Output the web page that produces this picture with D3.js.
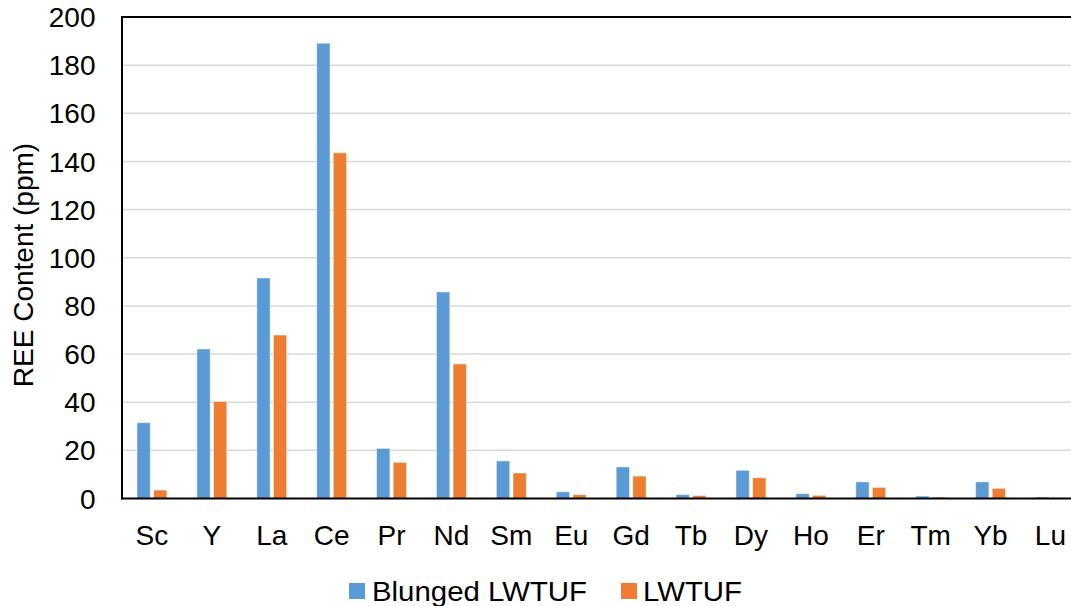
<!DOCTYPE html>
<html>
<head>
<meta charset="utf-8">
<script src="https://cdn.jsdelivr.net/npm/d3@7"></script>
<style>
  html, body { margin: 0; padding: 0; background: #fff; }
  svg { display: block; font-family: "Liberation Sans", Arial, sans-serif; }
</style>
</head>
<body>
<svg id="chart" width="1071" height="606"></svg>
<script>
// REE content per element for the two samples
const categories = ["Sc", "Y", "La", "Ce", "Pr", "Nd", "Sm", "Eu", "Gd", "Tb", "Dy", "Ho", "Er", "Tm", "Yb", "Lu"];
const seriesNames = ["Blunged LWTUF", "LWTUF"];
const blungedLWTUF = [31.5, 62.1, 91.6, 189.1, 20.8, 85.8, 15.6, 2.8, 13.1, 1.6, 11.7, 2.0, 6.9, 1.0, 6.9, 0.6];
const lwtuf = [3.5, 40.3, 67.9, 143.6, 15.0, 55.9, 10.6, 1.6, 9.3, 1.2, 8.6, 1.3, 4.6, 0.6, 4.2, 0.3];
const yTicks = [0, 20, 40, 60, 80, 100, 120, 140, 160, 180, 200];
const colors = ["#5b9bd5", "#ed7d31"];

const svg = d3.select("#chart");
const plotLeft = 122, plotTop = 17, plotBottom = 498.5, plotRight = 122 + 16 * 59.9;

const x = d3.scaleBand().domain(categories).range([plotLeft, plotRight]);
const xSeries = d3.scaleBand().domain(seriesNames).range([0, x.bandwidth()])
  .paddingInner(0.2).paddingOuter(0.904);
const y = d3.scaleLinear().domain([0, 200]).range([plotBottom, plotTop]);

// horizontal gridlines
svg.append("g").selectAll("line").data(yTicks.filter(d => d > 0 && d < 200)).join("line")
  .attr("x1", plotLeft).attr("x2", 1071)
  .attr("y1", d => y(d)).attr("y2", d => y(d))
  .attr("stroke", "#d9d9d9").attr("stroke-width", 1.5);

// bars
const rows = categories.map((c, i) => ({ c, v: [blungedLWTUF[i], lwtuf[i]] }));
const groups = svg.append("g").selectAll("g").data(rows).join("g")
  .attr("transform", d => `translate(${x(d.c)},0)`);
groups.selectAll("rect").data(d => d.v.map((v, k) => ({ v, k }))).join("rect")
  .attr("x", d => xSeries(seriesNames[d.k]))
  .attr("width", xSeries.bandwidth())
  .attr("y", d => y(d.v))
  .attr("height", d => plotBottom - y(d.v))
  .attr("fill", d => colors[d.k])
  .attr("stroke", "#ffffff").attr("stroke-opacity", 0.45).attr("stroke-width", 1);

// frame: left axis, bottom axis, top border
svg.append("line").attr("x1", plotLeft).attr("x2", plotLeft).attr("y1", plotTop - 1).attr("y2", plotBottom + 1)
  .attr("stroke", "#000").attr("stroke-width", 2);
svg.append("line").attr("x1", plotLeft - 1).attr("x2", 1071).attr("y1", plotBottom).attr("y2", plotBottom)
  .attr("stroke", "#000").attr("stroke-width", 2);
svg.append("line").attr("x1", plotLeft - 1).attr("x2", 1071).attr("y1", plotTop).attr("y2", plotTop)
  .attr("stroke", "#000").attr("stroke-width", 2);

// y tick labels
svg.append("g").selectAll("text").data(yTicks).join("text")
  .attr("x", 95.5).attr("y", d => y(d)).attr("dy", "0.36em")
  .attr("text-anchor", "end").attr("font-size", 28).attr("fill", "#000")
  .text(d => d);

// category labels
svg.append("g").selectAll("text").data(categories).join("text")
  .attr("x", d => x(d) + x.bandwidth() / 2).attr("y", 545)
  .attr("text-anchor", "middle").attr("font-size", 28).attr("fill", "#000")
  .text(d => d);

// y axis title
svg.append("text")
  .attr("transform", "translate(33,265) rotate(-90)")
  .attr("text-anchor", "middle").attr("font-size", 28).attr("fill", "#000")
  .text("REE Content (ppm)");

// legend
const legend = [
  { name: seriesNames[0], sx: 349, tx: 372, len: 215 },
  { name: seriesNames[1], sx: 621, tx: 643, len: 99 }
];
const lg = svg.append("g");
lg.selectAll("rect").data(legend).join("rect")
  .attr("x", d => d.sx).attr("y", 583).attr("width", 16).attr("height", 16)
  .attr("fill", (d, i) => colors[i]);
lg.selectAll("text").data(legend).join("text")
  .attr("x", d => d.tx).attr("y", 601)
  .attr("font-size", 27).attr("fill", "#000")
  .attr("textLength", d => d.len).attr("lengthAdjust", "spacingAndGlyphs")
  .text(d => d.name);
</script>
</body>
</html>
